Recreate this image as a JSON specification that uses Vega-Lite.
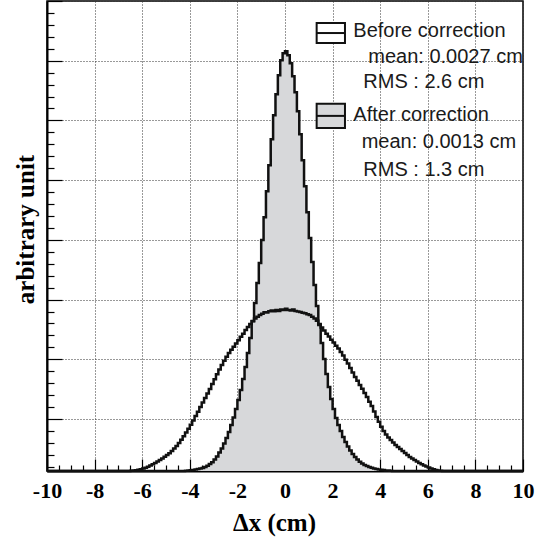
{
  "$schema": "https://vega.github.io/schema/vega-lite/v6.json",
  "width": 476,
  "height": 470,
  "autosize": {"type": "none"},
  "padding": {"left": 47, "top": 1, "right": 26, "bottom": 70},
  "background": "white",
  "config": {"view": {"stroke": "black", "strokeWidth": 1.5}},
  "datasets": {
    "after": [
      {"x": -10, "h": 0}, {"x": -4.3, "h": 0.1}, {"x": -4.2, "h": 0.2}, {"x": -4.1, "h": 0.4}, {"x": -4.0, "h": 0.7},
      {"x": -3.9, "h": 1.0}, {"x": -3.8, "h": 1.4}, {"x": -3.7, "h": 2.0}, {"x": -3.6, "h": 2.4}, {"x": -3.5, "h": 3.1},
      {"x": -3.4, "h": 4.0}, {"x": -3.3, "h": 5.2}, {"x": -3.2, "h": 7.0}, {"x": -3.1, "h": 8.8}, {"x": -3.0, "h": 11.5},
      {"x": -2.9, "h": 14.5}, {"x": -2.8, "h": 18.5}, {"x": -2.7, "h": 22.5}, {"x": -2.6, "h": 27.5}, {"x": -2.5, "h": 33},
      {"x": -2.4, "h": 39}, {"x": -2.3, "h": 46}, {"x": -2.2, "h": 53.5}, {"x": -2.1, "h": 62}, {"x": -2.0, "h": 71},
      {"x": -1.9, "h": 81}, {"x": -1.8, "h": 92}, {"x": -1.7, "h": 104}, {"x": -1.6, "h": 118}, {"x": -1.5, "h": 133},
      {"x": -1.4, "h": 150}, {"x": -1.3, "h": 168}, {"x": -1.2, "h": 188}, {"x": -1.1, "h": 208}, {"x": -1.0, "h": 231},
      {"x": -0.9, "h": 254}, {"x": -0.8, "h": 280}, {"x": -0.7, "h": 306}, {"x": -0.6, "h": 332}, {"x": -0.5, "h": 356},
      {"x": -0.4, "h": 377}, {"x": -0.3, "h": 396}, {"x": -0.2, "h": 411}, {"x": -0.1, "h": 418}, {"x": 0.0, "h": 420},
      {"x": 0.1, "h": 416}, {"x": 0.2, "h": 408}, {"x": 0.3, "h": 395}, {"x": 0.4, "h": 379}, {"x": 0.5, "h": 360},
      {"x": 0.6, "h": 337}, {"x": 0.7, "h": 311}, {"x": 0.8, "h": 285}, {"x": 0.9, "h": 259}, {"x": 1.0, "h": 233},
      {"x": 1.1, "h": 209}, {"x": 1.2, "h": 186}, {"x": 1.3, "h": 165}, {"x": 1.4, "h": 146}, {"x": 1.5, "h": 128},
      {"x": 1.6, "h": 112}, {"x": 1.7, "h": 97}, {"x": 1.8, "h": 84}, {"x": 1.9, "h": 72}, {"x": 2.0, "h": 62},
      {"x": 2.1, "h": 53}, {"x": 2.2, "h": 46}, {"x": 2.3, "h": 40}, {"x": 2.4, "h": 34}, {"x": 2.5, "h": 29},
      {"x": 2.6, "h": 24.5}, {"x": 2.7, "h": 20.5}, {"x": 2.8, "h": 17}, {"x": 2.9, "h": 14}, {"x": 3.0, "h": 11.5},
      {"x": 3.1, "h": 9.3}, {"x": 3.2, "h": 7.5}, {"x": 3.3, "h": 6.1}, {"x": 3.4, "h": 5.0}, {"x": 3.5, "h": 4.0},
      {"x": 3.6, "h": 3.2}, {"x": 3.7, "h": 2.6}, {"x": 3.8, "h": 2.0}, {"x": 3.9, "h": 1.6}, {"x": 4.0, "h": 1.2},
      {"x": 4.1, "h": 0.9}, {"x": 4.2, "h": 0.6}, {"x": 4.3, "h": 0.4}, {"x": 4.4, "h": 0.2}, {"x": 4.5, "h": 0},
      {"x": 10, "h": 0}
    ],
    "before": [
      {"x": -10, "h": 0}, {"x": -6.6, "h": 0.1}, {"x": -6.5, "h": 0.3}, {"x": -6.4, "h": 0.5}, {"x": -6.3, "h": 0.8},
      {"x": -6.2, "h": 1.2}, {"x": -6.1, "h": 1.8}, {"x": -6.0, "h": 2.5}, {"x": -5.9, "h": 3.3}, {"x": -5.8, "h": 4.3},
      {"x": -5.7, "h": 5.4}, {"x": -5.6, "h": 6.8}, {"x": -5.5, "h": 8.1}, {"x": -5.4, "h": 9.5}, {"x": -5.3, "h": 11.0},
      {"x": -5.2, "h": 12.6}, {"x": -5.1, "h": 14.2}, {"x": -5.0, "h": 15.9}, {"x": -4.9, "h": 17.8}, {"x": -4.8, "h": 20.0},
      {"x": -4.7, "h": 22.4}, {"x": -4.6, "h": 25.0}, {"x": -4.5, "h": 28.0}, {"x": -4.4, "h": 31.2}, {"x": -4.3, "h": 34.8},
      {"x": -4.2, "h": 38.5}, {"x": -4.1, "h": 42.2}, {"x": -4.0, "h": 46.2}, {"x": -3.9, "h": 50.5}, {"x": -3.8, "h": 55.0},
      {"x": -3.7, "h": 59.4}, {"x": -3.6, "h": 64.0}, {"x": -3.5, "h": 68.6}, {"x": -3.4, "h": 73.0}, {"x": -3.3, "h": 77.6},
      {"x": -3.2, "h": 82.0}, {"x": -3.1, "h": 87.0}, {"x": -3.0, "h": 91.8}, {"x": -2.9, "h": 96.8}, {"x": -2.8, "h": 101.5},
      {"x": -2.7, "h": 106.0}, {"x": -2.6, "h": 110.3}, {"x": -2.5, "h": 114.4}, {"x": -2.4, "h": 118.0}, {"x": -2.3, "h": 121.4},
      {"x": -2.2, "h": 124.3}, {"x": -2.1, "h": 127.6}, {"x": -2.0, "h": 130.8}, {"x": -1.9, "h": 134.2}, {"x": -1.8, "h": 137.4},
      {"x": -1.7, "h": 141.0}, {"x": -1.6, "h": 144.2}, {"x": -1.5, "h": 147.0}, {"x": -1.4, "h": 149.8}, {"x": -1.3, "h": 152.6},
      {"x": -1.2, "h": 154.3}, {"x": -1.1, "h": 156.2}, {"x": -1.0, "h": 157.4}, {"x": -0.9, "h": 158.8}, {"x": -0.8, "h": 158.6},
      {"x": -0.7, "h": 159.8}, {"x": -0.6, "h": 160.6}, {"x": -0.5, "h": 159.9}, {"x": -0.4, "h": 161.2}, {"x": -0.3, "h": 160.1},
      {"x": -0.2, "h": 161.7}, {"x": -0.1, "h": 161.0}, {"x": 0.0, "h": 162.4}, {"x": 0.1, "h": 161.0}, {"x": 0.2, "h": 160.6},
      {"x": 0.3, "h": 161.6}, {"x": 0.4, "h": 160.0}, {"x": 0.5, "h": 159.6}, {"x": 0.6, "h": 159.2}, {"x": 0.7, "h": 158.4},
      {"x": 0.8, "h": 157.8}, {"x": 0.9, "h": 156.8}, {"x": 1.0, "h": 156.2}, {"x": 1.1, "h": 154.4}, {"x": 1.2, "h": 152.6},
      {"x": 1.3, "h": 150.3}, {"x": 1.4, "h": 147.2}, {"x": 1.5, "h": 143.6}, {"x": 1.6, "h": 140.6}, {"x": 1.7, "h": 137.4},
      {"x": 1.8, "h": 134.6}, {"x": 1.9, "h": 131.4}, {"x": 2.0, "h": 128.6}, {"x": 2.1, "h": 125.4}, {"x": 2.2, "h": 122.6},
      {"x": 2.3, "h": 119.0}, {"x": 2.4, "h": 115.6}, {"x": 2.5, "h": 111.4}, {"x": 2.6, "h": 107.6}, {"x": 2.7, "h": 103.0},
      {"x": 2.8, "h": 98.6}, {"x": 2.9, "h": 94.0}, {"x": 3.0, "h": 90.2}, {"x": 3.1, "h": 86.0}, {"x": 3.2, "h": 82.2},
      {"x": 3.3, "h": 78.0}, {"x": 3.4, "h": 74.0}, {"x": 3.5, "h": 69.4}, {"x": 3.6, "h": 65.0}, {"x": 3.7, "h": 59.6},
      {"x": 3.8, "h": 54.0}, {"x": 3.9, "h": 49.2}, {"x": 4.0, "h": 44.2}, {"x": 4.1, "h": 40.0}, {"x": 4.2, "h": 36.6},
      {"x": 4.3, "h": 33.4}, {"x": 4.4, "h": 31.0}, {"x": 4.5, "h": 28.4}, {"x": 4.6, "h": 26.0}, {"x": 4.7, "h": 24.0},
      {"x": 4.8, "h": 22.0}, {"x": 4.9, "h": 20.0}, {"x": 5.0, "h": 18.0}, {"x": 5.1, "h": 16.0}, {"x": 5.2, "h": 14.1},
      {"x": 5.3, "h": 12.5}, {"x": 5.4, "h": 11.0}, {"x": 5.5, "h": 9.5}, {"x": 5.6, "h": 8.0}, {"x": 5.7, "h": 6.8},
      {"x": 5.8, "h": 5.5}, {"x": 5.9, "h": 4.5}, {"x": 6.0, "h": 3.5}, {"x": 6.1, "h": 2.6}, {"x": 6.2, "h": 1.8},
      {"x": 6.3, "h": 1.1}, {"x": 6.4, "h": 0.6}, {"x": 6.5, "h": 0.2}, {"x": 6.6, "h": 0}, {"x": 10, "h": 0}
    ],
    "legendText": [
      {"x": 2.87, "h": 434.5, "t": "Before correction"},
      {"x": 3.5, "h": 408.2, "t": "mean: 0.0027 cm"},
      {"x": 3.29, "h": 383.2, "t": "RMS : 2.6 cm"},
      {"x": 2.87, "h": 349.8, "t": "After correction"},
      {"x": 3.22, "h": 323.2, "t": "mean: 0.0013 cm"},
      {"x": 3.29, "h": 294.8, "t": "RMS : 1.3 cm"}
    ],
    "legendBox": [
      {"x1": 1.33, "x2": 2.52, "h1": 428.2, "h2": 448.2, "mid": 438.2, "fill": "white"},
      {"x1": 1.33, "x2": 2.52, "h1": 343.2, "h2": 367.5, "mid": 355.3, "fill": "#d7d8da"}
    ]
  },
  "layer": [
    {
      "data": {"name": "after"},
      "mark": {"type": "area", "interpolate": "step-after", "color": "#d7d8da"},
      "encoding": {
        "x": {
          "field": "x", "type": "quantitative",
          "scale": {"domain": [-10, 10], "nice": false, "zero": false},
          "axis": {
            "title": "Δx (cm)",
            "tickCount": 500,
            "values": [-10, -9.5, -9, -8.5, -8, -7.5, -7, -6.5, -6, -5.5, -5, -4.5, -4, -3.5, -3, -2.5, -2, -1.5, -1, -0.5, 0, 0.5, 1, 1.5, 2, 2.5, 3, 3.5, 4, 4.5, 5, 5.5, 6, 6.5, 7, 7.5, 8, 8.5, 9, 9.5, 10],
            "labelExpr": "datum.value % 2 === 0 ? '' + datum.value : ''",
            "labelFont": "Liberation Serif", "labelFontWeight": "bold", "labelFontSize": 22, "labelColor": "black",
            "labelPadding": 21, "labelOverlap": false, "labelFlush": false,
            "tickSize": {"condition": {"test": "datum.value % 2 === 0", "value": -12}, "value": -6},
            "tickColor": "black", "tickWidth": 1.2,
            "grid": true, "gridDash": [1, 2], "gridColor": "#333", "gridWidth": 1,
            "gridOpacity": {"condition": {"test": "datum.value % 2 === 0", "value": 1}, "value": 0},
            "domainColor": "black", "domainWidth": 2,
            "titleFont": "Liberation Serif", "titleFontWeight": "bold", "titleFontSize": 25, "titleColor": "black",
            "titleX": 227, "titleY": 59, "titleAlign": "center", "titleBaseline": "alphabetic"
          }
        },
        "y": {
          "field": "h", "type": "quantitative",
          "scale": {"domain": [0, 470.25], "nice": false, "zero": false},
          "axis": {
            "title": "arbitrary unit",
            "tickCount": 500,
            "values": [4.2, 16.15, 28.1, 40.05, 52, 63.95, 75.9, 87.85, 99.8, 111.75, 123.7, 135.65, 147.6, 159.55, 171.5, 183.45, 195.4, 207.35, 219.3, 231.25, 243.2, 255.15, 267.1, 279.05, 291, 302.95, 314.9, 326.85, 338.8, 350.75, 362.7, 374.65, 386.6, 398.55, 410.5, 422.45, 434.4, 446.35, 458.3, 470.25],
            "labels": false,
            "tickSize": {"condition": {"test": "indexof([52, 111.75, 171.5, 231.25, 291, 350.75, 410.5, 470.25], datum.value) >= 0", "value": -15}, "value": -7},
            "tickColor": "black", "tickWidth": 1.2,
            "grid": true, "gridDash": [1, 2], "gridColor": "#333", "gridWidth": 1,
            "gridOpacity": {"condition": {"test": "indexof([52, 111.75, 171.5, 231.25, 291, 350.75, 410.5, 470.25], datum.value) >= 0", "value": 1}, "value": 0},
            "domainColor": "black", "domainWidth": 2,
            "titleFont": "Liberation Serif", "titleFontWeight": "bold", "titleFontSize": 25, "titleColor": "black",
            "titleX": -22, "titleY": 228, "titleAngle": 270, "titleAlign": "center", "titleBaseline": "middle"
          }
        }
      }
    },
    {
      "data": {"name": "before"},
      "mark": {"type": "line", "interpolate": "step-after", "color": "#111111", "strokeWidth": 2.5},
      "encoding": {
        "x": {"field": "x", "type": "quantitative"},
        "y": {"field": "h", "type": "quantitative"}
      }
    },
    {
      "data": {"name": "after"},
      "mark": {"type": "line", "interpolate": "step-after", "color": "#111111", "strokeWidth": 2.5},
      "encoding": {
        "x": {"field": "x", "type": "quantitative"},
        "y": {"field": "h", "type": "quantitative"}
      }
    },
    {
      "data": {"name": "legendBox"},
      "mark": {"type": "rect", "stroke": "#111111", "strokeWidth": 2},
      "encoding": {
        "x": {"field": "x1", "type": "quantitative"},
        "x2": {"field": "x2"},
        "y": {"field": "h1", "type": "quantitative"},
        "y2": {"field": "h2"},
        "fill": {"field": "fill", "type": "nominal", "scale": null}
      }
    },
    {
      "data": {"name": "legendBox"},
      "mark": {"type": "rule", "color": "#111111", "strokeWidth": 2},
      "encoding": {
        "x": {"field": "x1", "type": "quantitative"},
        "x2": {"field": "x2"},
        "y": {"field": "mid", "type": "quantitative"}
      }
    },
    {
      "data": {"name": "legendText"},
      "mark": {"type": "text", "align": "left", "baseline": "alphabetic", "font": "Liberation Sans", "fontSize": 20, "color": "#1a1a1a"},
      "encoding": {
        "x": {"field": "x", "type": "quantitative"},
        "y": {"field": "h", "type": "quantitative"},
        "text": {"field": "t", "type": "nominal"}
      }
    }
  ]
}
